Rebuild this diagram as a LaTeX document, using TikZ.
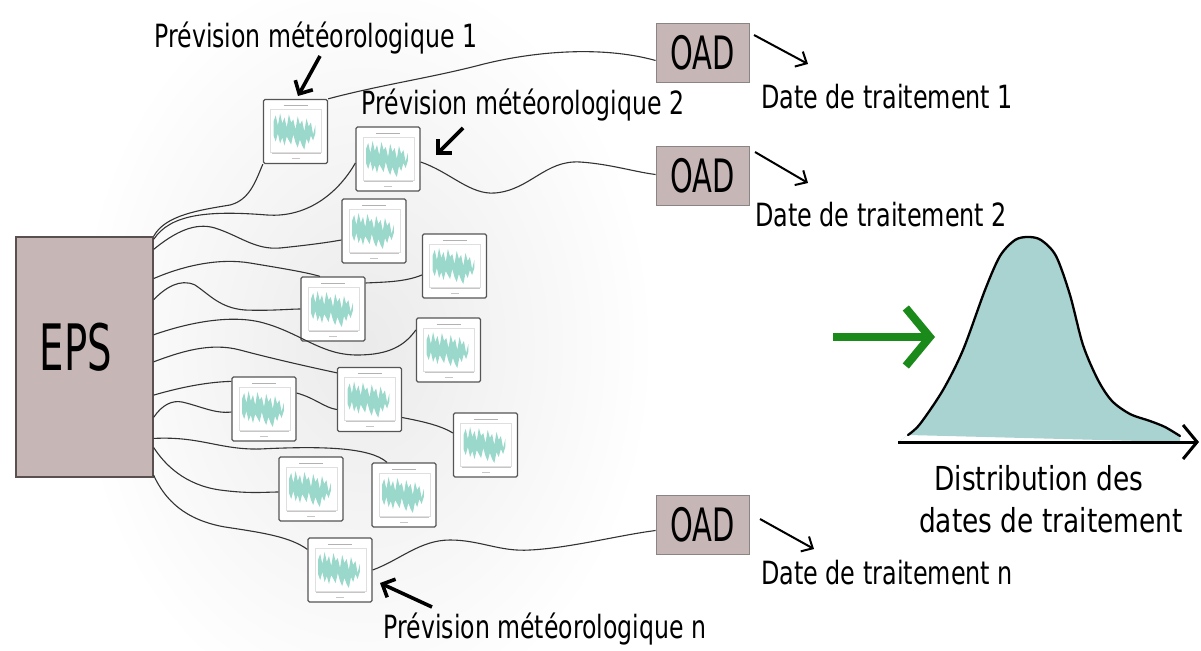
\documentclass[tikz,border=0pt]{standalone}
\usepackage{fontspec}
\setmainfont{DejaVu Sans Condensed}
\usepackage{graphicx}
\usetikzlibrary{arrows.meta,calc}
\definecolor{boxc}{HTML}{C6B6B6}
\definecolor{boxline}{HTML}{5A5050}
\definecolor{thumbline}{HTML}{555555}
\definecolor{chartc}{HTML}{9AD8CB}
\definecolor{curvec}{HTML}{A8D3D0}
\definecolor{greenc}{HTML}{1A8A1A}
\definecolor{connc}{HTML}{333333}
\newcommand\txt[3]{{\fontsize{#1}{#1}\selectfont\scalebox{#2}[1]{#3}}}
\tikzset{
  epsbox/.style={draw=boxline, line width=1.3pt, fill=boxc, minimum width=137pt, minimum height=240pt, inner sep=0pt},
  oadbox/.style={draw=boxline!70, line width=0.8pt, fill=boxc, minimum width=93pt, minimum height=59pt, inner sep=0pt},
  thumb/.style={draw=thumbline, line width=1.3pt, fill=white, minimum width=64pt, minimum height=64pt, inner sep=0pt, rounded corners=1.5pt},
  conn/.style={draw=connc, line width=1.1pt},
  lbl/.style={inner sep=0pt, anchor=base},
  fatarrow/.style={line width=3.6pt, -{Straight Barb[length=10pt,width=20pt]}},
  thinarrow/.style={line width=2pt, -{Straight Barb[length=9pt,width=17pt]}},
  chart/.pic={
    \draw[gray!60, line width=0.6pt] (-12,-26) -- (12,-26);
    \draw[gray!25, line width=0.5pt] (-25,-22) rectangle (26,21);
    \fill[chartc] (-22,-10) -- (-19.8,-16) -- (-17.6,-6) -- (-15.4,-18) -- (-13.2,-8) -- (-11,-14) -- (-8.8,-4) -- (-6.6,-17) -- (-4.4,-9) -- (-2.2,-12) -- (0,-2) -- (2.2,-15) -- (4.4,-7) -- (6.6,-11) -- (8.8,0) -- (11,-13) -- (13.2,-5) -- (15.4,-9) -- (17.6,3) -- (19.8,-6)
      -- (19.8,2) -- (17.6,9) -- (15.4,4) -- (13.2,12) -- (11,7) -- (8.8,18) -- (6.6,14) -- (4.4,8) -- (2.2,16) -- (0,11) -- (-2.2,3) -- (-4.4,13) -- (-6.6,9) -- (-8.8,5) -- (-11,14) -- (-13.2,6) -- (-15.4,12) -- (-17.6,2) -- (-19.8,10) -- (-22,4) -- cycle;
    \draw[gray!45, line width=0.5pt] (-24,22) -- (25,22);
    \draw[gray!45, line width=0.5pt] (-4,27) -- (4,27);
  }
}
\begin{document}
\begin{tikzpicture}[x=1pt,y=-1pt]
\useasboundingbox (0,0) rectangle (1201,650);
\fill[white] (0,0) rectangle (1201,650);
\shade[inner color=black!8, outer color=white] (365,345) ellipse (290 and 380);

% EPS and OAD boxes
\node[epsbox] (EPS) at (84.5,357) {};
\node[lbl] (EPSt) at (76,370) {\txt{64}{0.67}{EPS}};
\node[oadbox] (OAD1) at (702.5,52.5) {\txt{46}{0.70}{OAD}};
\node[oadbox] (OAD2) at (702.5,175.5) {\txt{46}{0.70}{OAD}};
\node[oadbox] (OAD3) at (702.5,524.5) {\txt{46}{0.70}{OAD}};

% thumbnails
\node[thumb] (T1) at (295.5,131.5) {};
\node[thumb] (T2) at (388,159) {};
\node[thumb] (T3) at (374,231) {};
\node[thumb] (T4) at (454.5,266) {};
\node[thumb] (T5) at (333,309) {};
\node[thumb] (T6) at (448.5,350) {};
\node[thumb] (T7) at (369.5,399.5) {};
\node[thumb] (T8) at (264,409) {};
\node[thumb] (T9) at (485.5,445) {};
\node[thumb] (T10) at (311,489) {};
\node[thumb] (T11) at (404,495) {};
\node[thumb] (T12) at (340,570) {};
\foreach \t in {T1,T2,T3,T4,T5,T6,T7,T8,T9,T10,T11,T12} \pic at (\t.center) {chart};

% points on the right side of EPS
\foreach \n/\f in {a/0,b/0.0125,c/0.054,d/0.175,e/0.2625,f/0.408,g/0.52,h/0.658,i/0.75,j/0.8375,k/0.875,l/0.99}
  \coordinate (e\n) at ($(EPS.north east)!\f!(EPS.south east)$);

% connectors from EPS
\draw[conn] (ea) .. controls (165,215) and (200,210) .. (230,205) .. controls (250,200) and (256,180) .. (T1.south west);
\draw[conn] (eb) .. controls (170,215) and (205,210) .. (267,215) .. controls (310,218) and (340,190) .. ($(T2.west)+(0,4)$);
\draw[conn] (ec) .. controls (175,232) and (195,222) .. (215,228) .. controls (240,236) and (255,250) .. (280,248) .. controls (300,246) and (325,243) .. ($(T3.west)+(0,9)$);
\draw[conn] (ed) .. controls (185,265) and (220,258) .. (250,263) .. controls (280,268) and (305,272) .. ($(T5.north)+(-13,0)$);
\draw[conn] (ee) .. controls (165,288) and (180,278) .. (195,285) .. controls (210,295) and (220,308) .. (245,310) .. controls (270,311) and (290,309) .. (T5.west);
\draw[conn] (ef) .. controls (190,322) and (230,315) .. (260,322) .. controls (300,332) and (320,355) .. (357,355) .. controls (390,355) and (405,345) .. ($(T6.west)+(0,-20)$);
\draw[conn] (eg) .. controls (180,352) and (210,342) .. (240,350) .. controls (270,358) and (305,366) .. ($(T7.north west)+(0,6)$);
\draw[conn] (eh) .. controls (185,386) and (210,382) .. ($(T8.north west)+(0,5)$);
\draw[conn] (ei) .. controls (162,405) and (172,400) .. (182,402) .. controls (200,406) and (215,414) .. ($(T8.west)+(0,3)$);
\draw[conn] (ej) .. controls (200,436) and (220,450) .. (260,449) .. controls (320,446) and (370,447) .. ($(T11.north)+(-17,0)$);
\draw[conn] (ek) .. controls (165,465) and (185,485) .. (220,490) .. controls (250,494) and (265,492) .. ($(T10.west)+(0,3)$);
\draw[conn] (el) .. controls (165,500) and (185,520) .. (225,527) .. controls (265,533) and (290,537) .. ($(T12.north west)+(0,12)$);

% connectors between thumbnails and to OAD
\draw[conn] (T1.north east) .. controls (380,85) and (430,78) .. (480,65) .. controls (530,52) and (600,45) .. ($(OAD1.west)+(0,8)$);
\draw[conn] ($(T2.east)+(0,3)$) .. controls (450,172) and (470,195) .. (495,193) .. controls (530,190) and (545,160) .. (580,162) .. controls (610,164) and (635,172) .. ($(OAD2.west)+(0,-1)$);
\draw[conn] ($(T5.east)+(0,-26)$) .. controls (385,282) and (405,282) .. ($(T4.west)+(0,9)$);
\draw[conn] ($(T8.east)+(0,-16)$) .. controls (315,398) and (325,408) .. ($(T7.west)+(0,10)$);
\draw[conn] ($(T7.east)+(0,18)$) .. controls (420,421) and (440,425) .. ($(T9.west)+(0,-12)$);
\draw[conn] (T12.east) .. controls (400,560) and (420,540) .. (450,540) .. controls (480,540) and (500,552) .. (530,550) .. controls (570,548) and (620,535) .. ($(OAD3.west)+(0,6)$);

% labels
\node[lbl] (P1) at (316,48) {\txt{32}{0.82}{Prévision météorologique 1}};
\node[lbl] (P2) at (523,114) {\txt{32}{0.82}{Prévision météorologique 2}};
\node[lbl] (Pn) at (545,638) {\txt{32}{0.82}{Prévision météorologique n}};
\node[lbl] (D1) at (887,109) {\txt{32}{0.83}{Date de traitement 1}};
\node[lbl] (D2) at (881,226) {\txt{32}{0.83}{Date de traitement 2}};
\node[lbl] (Dn) at (887,584) {\txt{32}{0.83}{Date de traitement n}};
\node[lbl] (DI1) at (1039,490) {\txt{33}{0.89}{Distribution des}};
\node[lbl] (DI2) at (1051,532) {\txt{33}{0.89}{dates de traitement}};

% annotation arrows
\coordinate (p1s) at (320,56); \coordinate (p1e) at (298,96);
\coordinate (p2s) at (463,128); \coordinate (p2e) at (436,155);
\coordinate (pns) at (432,607); \coordinate (pne) at (380,583);
\draw[fatarrow] (p1s) -- (p1e);
\draw[fatarrow] (p2s) -- (p2e);
\draw[fatarrow] (pns) -- (pne);
\coordinate (o1s) at (754,35); \coordinate (o1e) at (808,64);
\coordinate (o2s) at (755,152); \coordinate (o2e) at (808,183);
\coordinate (o3s) at (760,519); \coordinate (o3e) at (814,549);
\draw[thinarrow] (o1s) -- (o1e);
\draw[thinarrow] (o2s) -- (o2e);
\draw[thinarrow] (o3s) -- (o3e);

% green arrow
\coordinate (g1) at (833,337); \coordinate (g2) at (935,337);
\draw[greenc, line width=8pt, -{Straight Barb[length=24pt,width=58pt]}] (g1) -- (g2);

% distribution
\fill[curvec] (898,442) -- (908,435) plot[smooth] coordinates {(908,435) (920,424) (943,390) (963,350) (985,290) (1000,256) (1015,240) (1028,237) (1041,240) (1056,256) (1070,295) (1083,345) (1098,380) (1112,401) (1130,414) (1150,421) (1165,427) (1180,436)} -- (1180,442) -- cycle;
\draw[black, line width=2.3pt, line cap=round] plot[smooth] coordinates {(908,435) (920,424) (943,390) (963,350) (985,290) (1000,256) (1015,240) (1028,237) (1041,240) (1056,256) (1070,295) (1083,345) (1098,380) (1112,401) (1130,414) (1150,421) (1165,427) (1180,436)};
\coordinate (ax1) at (898,442); \coordinate (ax2) at (1199,442);
\draw[line width=3pt, -{Straight Barb[length=14pt,width=34pt]}] (ax1) -- (ax2);
\end{tikzpicture}
\end{document}
